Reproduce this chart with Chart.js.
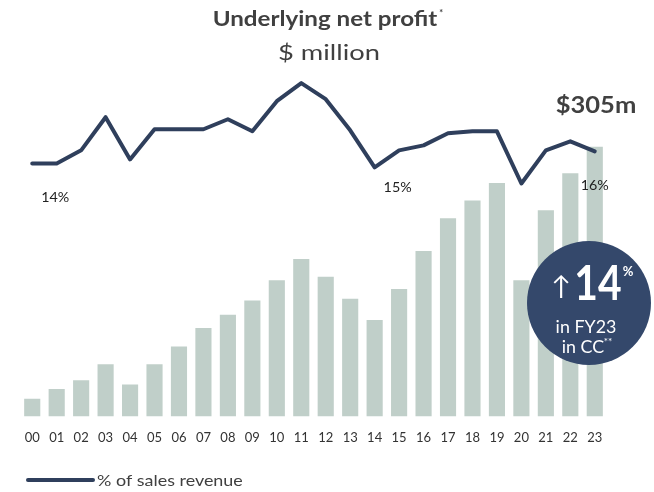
<!DOCTYPE html>
<html>
<head>
<meta charset="utf-8">
<script src="https://cdn.jsdelivr.net/npm/chart.js@4.4.1/dist/chart.umd.min.js"></script>
<style>
  html, body { margin: 0; padding: 0; background: #ffffff; }
  #wrap { width: 654px; height: 492px; position: relative; }
</style>
</head>
<body>
<div id="wrap"><canvas id="profitChart" width="654" height="492"></canvas></div>
<script>
// years (FY00 .. FY23)
const years = ["00", "01", "02", "03", "04", "05", "06", "07", "08", "09", "10", "11",
               "12", "13", "14", "15", "16", "17", "18", "19", "20", "21", "22", "23"];

// underlying net profit, $ million
const netProfit = [20, 31, 41, 59, 36, 59, 79, 100, 115, 131, 154, 178,
                   158, 133, 109, 144, 187, 224, 244, 264, 154, 233, 275, 305];

// % of sales revenue
const salesPct = [14.0, 14.0, 14.65, 16.3, 14.2, 15.7, 15.7, 15.7, 16.2, 15.6, 17.1, 18.0,
                  17.2, 15.65, 13.8, 14.65, 14.9, 15.5, 15.6, 15.6, 13.0, 14.65, 15.1, 14.6];

// labels written next to the line
const pctLabels = [
    { index: 0, text: "14%" },
    { index: 14, text: "15%" },
    { index: 23, text: "16%" }
];

const fontFamily = "Lato, 'Open Sans', sans-serif";
const textColor = "#404040";
const navy = "#2f3f5c";

// text drawn a little wider, like the original
function wideText(ctx, text, x, y, sx) {
    ctx.save();
    ctx.translate(x, y);
    ctx.scale(sx, 1);
    ctx.fillText(text, 0, 0);
    ctx.restore();
}

/* =========================
   텍스트 / 배지 그리기
========================= */
const extrasPlugin = {
    id: "extras",
    afterDraw(chart) {
        const ctx = chart.ctx;
        const x = chart.scales.x;

        ctx.save();
        ctx.textAlign = "center";
        ctx.textBaseline = "middle";

        // title
        ctx.fillStyle = textColor;
        ctx.font = "bold 21px " + fontFamily;
        wideText(ctx, "Underlying net profit", 325, 19, 1.15);
        const tw = ctx.measureText("Underlying net profit").width * 1.15;
        ctx.font = "bold 9px " + fontFamily;
        ctx.fillText("*", 325 + tw / 2 + 4, 13);

        ctx.font = "21px " + fontFamily;
        wideText(ctx, "$ million", 329, 53, 1.3);

        // $305m
        ctx.font = "bold 22px " + fontFamily;
        wideText(ctx, "$" + netProfit[23] + "m", 596, 106, 1.16);

        // % labels
        ctx.font = "13px " + fontFamily;
        ctx.fillStyle = "#222222";
        const offsets = { 0: [23, 34], 14: [23, 20], 23: [0, 34] };
        pctLabels.forEach(l => {
            const px = x.getPixelForValue(l.index);
            const py = chart.scales.y1.getPixelForValue(salesPct[l.index]);
            wideText(ctx, l.text, px + offsets[l.index][0], py + offsets[l.index][1], 1.1);
        });

        // badge circle
        const cx = 589, cy = 303;
        ctx.beginPath();
        ctx.arc(cx, cy, 62, 0, Math.PI * 2);
        ctx.fillStyle = "#34486b";
        ctx.fill();

        ctx.fillStyle = "#ffffff";
        ctx.font = "bold 48px " + fontFamily;
        wideText(ctx, "14", 598, 285, 0.85);
        ctx.font = "26px " + fontFamily;
        ctx.fillText("\u2191", 561, 287);
        ctx.font = "bold 13px " + fontFamily;
        ctx.fillText("%", 628, 272);
        ctx.font = "17px " + fontFamily;
        wideText(ctx, "in FY23", 586, 328, 1.05);
        wideText(ctx, "in CC", 583, 348, 1.05);
        ctx.font = "10px " + fontFamily;
        ctx.fillText("**", 608, 342);

        // legend
        ctx.strokeStyle = navy;
        ctx.lineWidth = 4;
        ctx.lineCap = "round";
        ctx.beginPath();
        ctx.moveTo(28, 480);
        ctx.lineTo(93, 480);
        ctx.stroke();
        ctx.fillStyle = textColor;
        ctx.textAlign = "left";
        ctx.font = "16px " + fontFamily;
        wideText(ctx, "% of sales revenue", 97, 481, 1.12);

        ctx.restore();
    }
};

/* =========================
   차트
========================= */
const ctx = document.getElementById("profitChart");

const chart = new Chart(ctx, {

    data: {

        labels: years,

        datasets: [
            {
                type: "line",
                label: "% of sales revenue",
                data: salesPct,
                yAxisID: "y1",
                borderColor: navy,
                borderWidth: 4,
                pointRadius: 0,
                tension: 0,
                borderCapStyle: "round",
                borderJoinStyle: "round",
                order: 0
            },
            {
                type: "bar",
                label: "Underlying net profit",
                data: netProfit,
                yAxisID: "y",
                backgroundColor: "#c0cfc9",
                barPercentage: 0.66,
                categoryPercentage: 1,
                order: 1
            }
        ]
    },

    options: {

        responsive: false,
        animation: false,

        layout: {
            padding: { top: 60, left: 20, right: 47, bottom: 32 }
        },

        plugins: {
            legend: { display: false },
            tooltip: { enabled: false }
        },

        scales: {

            x: {
                grid: { display: false, drawTicks: false },
                border: { display: false },
                ticks: {
                    color: "#333333",
                    padding: 14,
                    autoSkip: false,
                    maxRotation: 0,
                    font: { family: fontFamily, size: 13 }
                }
            },

            y: {
                display: false,
                min: 0,
                max: 403
            },

            y1: {
                display: false,
                min: 1.4,
                max: 19.15
            }
        }
    },

    plugins: [extrasPlugin]
});
</script>
</body>
</html>
